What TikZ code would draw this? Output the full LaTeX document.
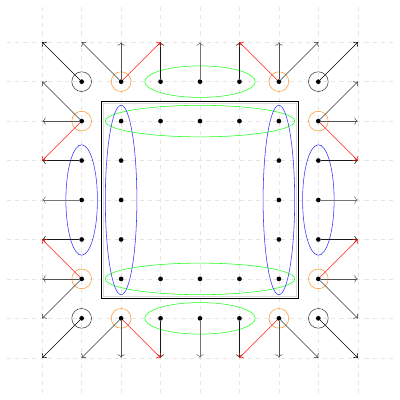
\documentclass[tikz,border=0pt]{standalone}
\usepackage{tikz}
\usetikzlibrary{arrows.meta}

\begin{document}
\begin{tikzpicture}[
  dot/.style={circle,fill=black,inner sep=1.2pt},
  link/.style={->,black!90},
  midlink/.style={->,black!55},
  sidelink/.style={->,black!68},
  skewlink/.style={->,black!78},
  redlink/.style={->,red!90},
  ring/.style={orange!80},
  corner/.style={black!75}
]
\useasboundingbox (-1.07,-1.07) rectangle (9.07,9.07);
% background grid
\draw[gray!20,dashed] (-0.9,-0.9) grid (8.9,8.9);
\foreach \i in {0,...,8} {
  \foreach \j in {0,...,8} {
    \coordinate (p\i\j) at (\i,\j);
  }
}

% domain box
\draw[gray!30] (1.55,1.55) rectangle (6.45,6.45);
\draw[thick] (1.5,1.5) rectangle (6.5,6.5);

% dots on the ring
\foreach \j in {1,2,6,7} {
  \foreach \i in {1,...,7} {
    \node[dot] (d\i\j) at (p\i\j) {};
  }
}
\foreach \i in {1,2,6,7} {
  \foreach \j in {3,4,5} {
    \node[dot] (d\i\j) at (p\i\j) {};
  }
}

% circles
\foreach \p in {21,61,12,72,16,76,27,67} {
  \draw[ring] (d\p) circle (0.25);
}
\foreach \p in {11,17,71,77} {
  \draw[corner] (d\p) circle (0.25);
}

% ellipses
\draw[green!90] (d47) ellipse (1.4 and 0.4);
\draw[green!90] (d46) ellipse (2.4 and 0.4);
\draw[green!90] (d42) ellipse (2.4 and 0.4);
\draw[green!90] (d41) ellipse (1.4 and 0.4);
\draw[blue!80] (d14) ellipse (0.4 and 1.4);
\draw[blue!80] (d24) ellipse (0.4 and 2.4);
\draw[blue!80] (d64) ellipse (0.4 and 2.4);
\draw[blue!80] (d74) ellipse (0.4 and 1.4);

% top and bottom
\foreach \i in {3,5} {
  \draw[link] (d\i7) -- (p\i8);
  \draw[link] (d\i1) -- (p\i0);
}
\draw[midlink] (d47) -- (p48);
\draw[midlink] (d41) -- (p40);
\draw[sidelink] (d27) -- (p28);
\draw[skewlink] (d27) -- (p18);
\draw[redlink] (d27) -- (p38);
\draw[sidelink] (d67) -- (p68);
\draw[skewlink] (d67) -- (p78);
\draw[redlink] (d67) -- (p58);
\draw[sidelink] (d21) -- (p20);
\draw[skewlink] (d21) -- (p10);
\draw[redlink] (d21) -- (p30);
\draw[sidelink] (d61) -- (p60);
\draw[skewlink] (d61) -- (p70);
\draw[redlink] (d61) -- (p50);

% left and right
\foreach \j in {3,5} {
  \draw[link] (d1\j) -- (p0\j);
  \draw[link] (d7\j) -- (p8\j);
}
\draw[midlink] (d14) -- (p04);
\draw[midlink] (d74) -- (p84);
\draw[sidelink] (d16) -- (p06);
\draw[skewlink] (d16) -- (p07);
\draw[redlink] (d16) -- (p05);
\draw[sidelink] (d12) -- (p02);
\draw[skewlink] (d12) -- (p01);
\draw[redlink] (d12) -- (p03);
\draw[sidelink] (d76) -- (p86);
\draw[skewlink] (d76) -- (p87);
\draw[redlink] (d76) -- (p85);
\draw[sidelink] (d72) -- (p82);
\draw[skewlink] (d72) -- (p81);
\draw[redlink] (d72) -- (p83);

% corners
\draw[->] (d17) -- (p08);
\draw[->] (d77) -- (p88);
\draw[->] (d11) -- (p00);
\draw[->] (d71) -- (p80);
\end{tikzpicture}
\end{document}
